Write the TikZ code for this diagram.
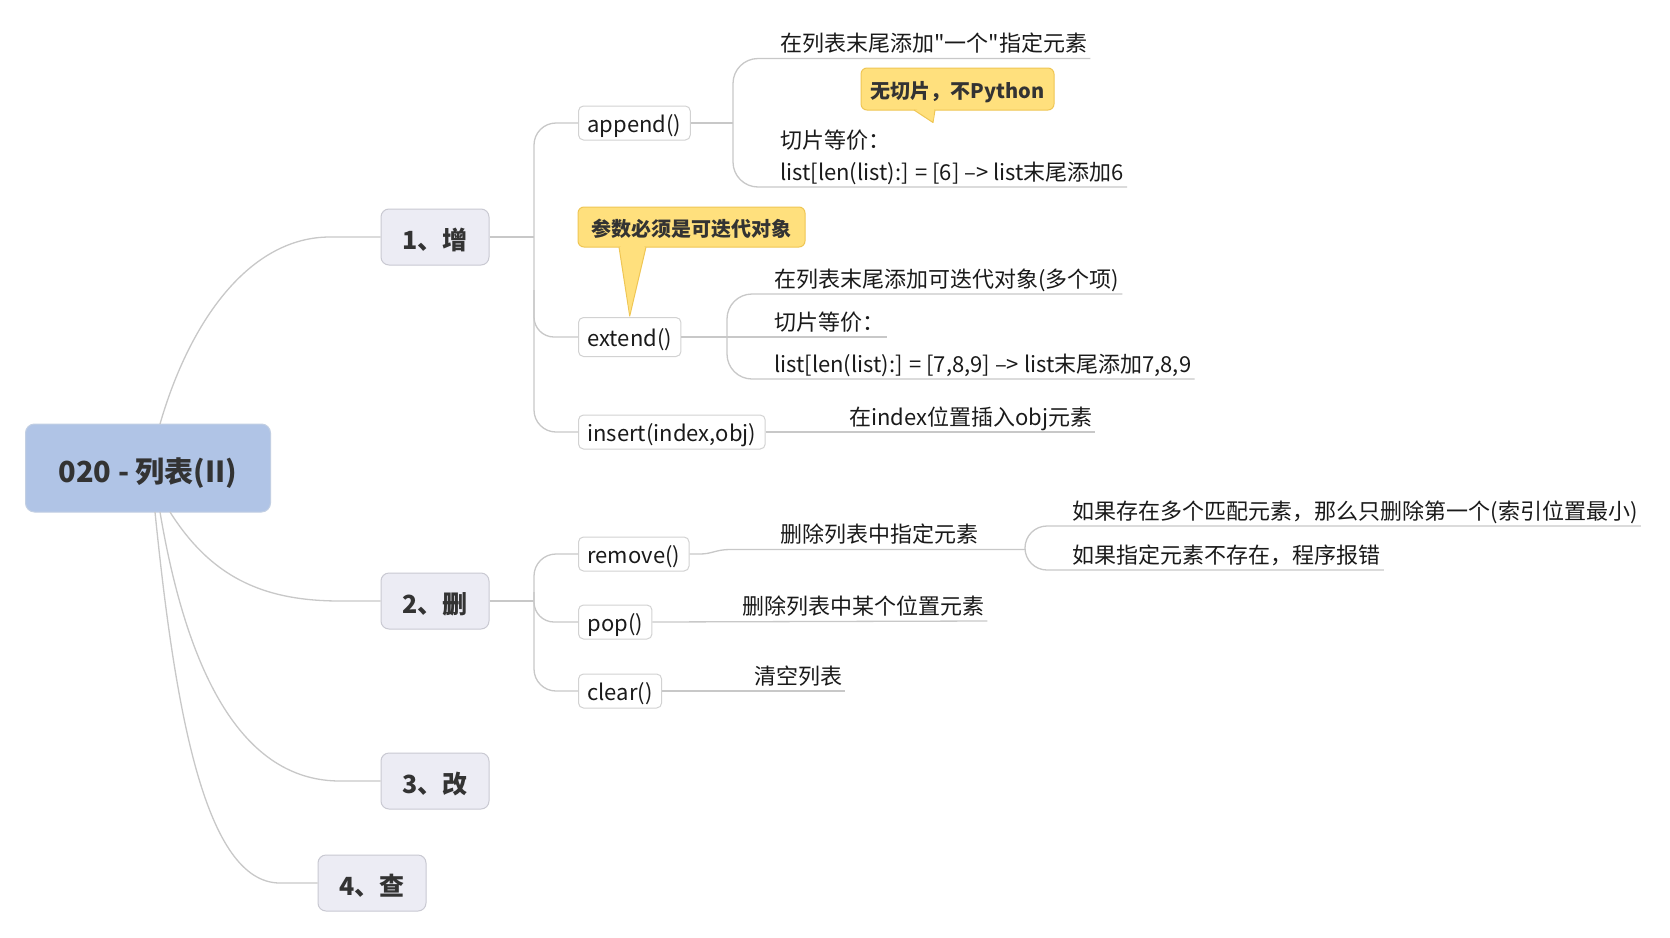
\documentclass[tikz,border=0pt]{standalone}
\usepackage{fontspec}
\setmainfont{Noto Sans CJK SC}
\newfontfamily\mainf{Noto Sans CJK SC}
\usetikzlibrary{calc}
\definecolor{centralfill}{HTML}{B0C4E6}
\definecolor{centralborder}{HTML}{C2CFE3}
\definecolor{topicfill}{HTML}{ECECF4}
\definecolor{topicborder}{HTML}{C9C9D2}
\definecolor{subborder}{HTML}{D2D2D2}
\definecolor{linegray}{HTML}{C8C8C8}
\definecolor{calloutfill}{HTML}{FFE07D}
\definecolor{calloutborder}{HTML}{EFC654}
\definecolor{textdark}{HTML}{333333}
\definecolor{textleaf}{HTML}{1A1A1A}
\begin{document}
\begin{tikzpicture}[x=1pt,y=-1pt,
  central/.style={draw=centralborder, fill=centralfill, rounded corners=9pt, minimum width=245pt, minimum height=88pt, font=\mainf\bfseries\fontsize{29}{34}\selectfont, text height=30pt, text depth=2pt, text=textdark, line width=1pt},
  topic/.style={draw=topicborder, fill=topicfill, rounded corners=8pt, minimum width=108pt, minimum height=56pt, font=\mainf\bfseries\fontsize{25}{30}\selectfont, text height=26pt, text depth=2pt, text=textdark, line width=1pt},
  sub/.style={draw=subborder, fill=white, rounded corners=5pt, minimum height=34pt, inner xsep=9pt, inner ysep=2pt, anchor=west, font=\mainf\fontsize{22}{26}\selectfont, text height=21.8pt, text depth=3pt, text=textleaf, line width=1pt},
  leaf/.style={anchor=base west, inner sep=0pt, font=\mainf\fontsize{22}{26}\selectfont, text=textleaf},
  conn/.style={draw=linegray, line width=1.3pt},
  callout/.style={fill=calloutfill, draw=calloutborder, rounded corners=6pt, font=\mainf\bfseries\fontsize{20}{24}\selectfont, text height=20pt, text depth=1pt, text=textdark, line width=1pt},
  tailfill/.style={fill=calloutfill, draw=calloutborder, line width=1pt, line join=round},
]
\useasboundingbox[fill=white] (0,0) rectangle (1670,937);

% central and main topics
\node[central] (center) at (148,468) {020 - 列表(II)};
\node[topic] (t1) at (435,237) {1、增};
\node[topic] (t2) at (435,601) {2、删};
\node[topic] (t3) at (435,781) {3、改};
\node[topic] (t4) at (372,883) {4、查};

\draw[conn] (160,424) .. controls (190,320) and (250,237) .. (330,237) -- (t1.west);
\draw[conn] (170,512) .. controls (210,575) and (260,601) .. (340,601) -- (t2.west);
\draw[conn] (160,512) .. controls (190,690) and (250,781) .. (340,781) -- (t3.west);
\draw[conn] (155,512) .. controls (175,710) and (205,883) .. (280,883) -- (t4.west);

% sub topics of 1
\node[sub] (append) at (578,123) {append()};
\node[sub, minimum height=39pt] (extend) at (578,337) {extend()};
\node[sub] (insert) at (578,432) {insert(index,obj)};

\draw[conn, rounded corners=22pt] (append.west) -- (534,123) -- (534,432) -- (insert.west);
\draw[conn, rounded corners=20pt] (534,290) -- (534,337) -- (extend.west);
\draw[conn] (t1.east) -- (534,237);

% append leaves
\node[leaf] (a1) at (780,51.5) {在列表末尾添加"一个"指定元素};
\node[leaf] (a2) at (780,148) {切片等价：};
\node[leaf] (a2b) at (780,180) {list[len(list):] = [6] –> list末尾添加6};
\draw[conn] (append.east) -- (733,123);
\draw[conn, rounded corners=25pt] ($(a1.base east)+(3,7)$) -- (733,58.5) -- (733,187) -- ($(a2b.base east)+(3,7)$);

% extend leaves
\node[leaf] (e1) at (774,287) {在列表末尾添加可迭代对象(多个项)};
\node[leaf] (e2) at (774,330) {切片等价：};
\node[leaf] (e3) at (774,372) {list[len(list):] = [7,8,9] –> list末尾添加7,8,9};
\draw[conn] (extend.east) -- ($(e2.base east)+(3,7)$);
\draw[conn, rounded corners=25pt] ($(e1.base east)+(3,7)$) -- (727,294) -- (727,379) -- ($(e3.base east)+(3,7)$);

% insert leaf
\node[leaf] (i1) at (849,425) {在index位置插入obj元素};
\draw[conn] (insert.east) -- ($(i1.base east)+(3,7)$);

% callouts
\node[callout, minimum width=193pt, minimum height=42pt] (c1) at (957.5,89) {无切片，不Python};
\filldraw[tailfill] ($(c1.south)+(-43.5,-0.5)$) -- ($(c1.south)+(-24.5,12)$) -- ($(c1.south)+(-22.5,-0.5)$);
\fill[calloutfill] ($(c1.south)+(-42,-2)$) -- ($(c1.south)+(-24.2,9)$) -- ($(c1.south)+(-23.5,-2)$) -- cycle;

\node[callout, minimum width=227pt, minimum height=40pt] (c2) at (691.5,227) {参数必须是可迭代对象};
\filldraw[tailfill] ($(c2.south)+(-72.5,-0.5)$) -- ($(extend.north)+(0,-1)$) -- ($(c2.south)+(-45.5,-0.5)$);
\fill[calloutfill] ($(c2.south)+(-71,-2)$) -- ($(extend.north)+(0,-4)$) -- ($(c2.south)+(-47,-2)$) -- cycle;

% sub topics of 2
\node[sub] (remove) at (578,554) {remove()};
\node[sub] (pop) at (578,622) {pop()};
\node[sub] (clear) at (578,691) {clear()};
\draw[conn, rounded corners=22pt] (remove.west) -- (534,554) -- (534,691) -- (clear.west);
\draw[conn, rounded corners=20pt] (534,592) -- (534,622) -- (pop.west);
\draw[conn] (t2.east) -- (534,601);

% remove leaves
\node[leaf] (r1) at (780,542.5) {删除列表中指定元素};
\node[leaf] (r11) at (1072.5,519) {如果存在多个匹配元素，那么只删除第一个(索引位置最小)};
\node[leaf] (r12) at (1072.5,563) {如果指定元素不存在，程序报错};
\draw[conn] (remove.east) -- (700,554) .. controls (712,554) and (716,549.5) .. (730,549.5) -- (1025,549.5);
\draw[conn, rounded corners=22pt] ($(r11.base east)+(3,7)$) -- (1025,526) -- (1025,570) -- ($(r12.base east)+(3,7)$);

% pop / clear leaves
\node[leaf] (p1) at (742,614) {删除列表中某个位置元素};
\draw[conn] (pop.east) -- ($(p1.base east)+(3,7)$);
\node[leaf] (cl1) at (754,684) {清空列表};
\draw[conn] (clear.east) -- ($(cl1.base east)+(3,7)$);
\end{tikzpicture}
\end{document}
